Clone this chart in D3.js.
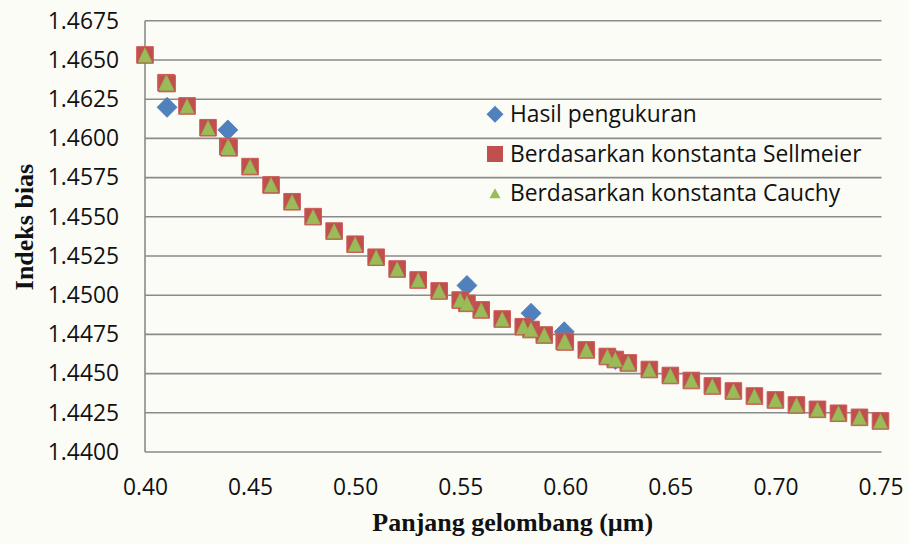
<!DOCTYPE html>
<html>
<head>
<meta charset="utf-8">
<script src="https://cdn.jsdelivr.net/npm/d3@7"></script>
<style>
  html, body { margin: 0; padding: 0; background: #fcfcf7; }
  svg { display: block; }
</style>
</head>
<body>
<svg id="chart" width="909" height="544"></svg>
<script>
// Measured refractive index (diamonds)
const measuredWavelength = [0.4105, 0.4394, 0.5532, 0.5837, 0.5995, 0.6238];
const measuredIndex      = [1.46198, 1.46054, 1.45062, 1.44885, 1.44767, 1.44590];

// Index computed from the Sellmeier constants (squares)
const sellmeierWavelength = [0.40, 0.41, 0.4105, 0.42, 0.43, 0.4394, 0.44, 0.45, 0.46, 0.47, 0.48, 0.49,
  0.50, 0.51, 0.52, 0.53, 0.54, 0.55, 0.5532, 0.56, 0.57, 0.58, 0.5837, 0.59, 0.5995, 0.60,
  0.61, 0.62, 0.6238, 0.63, 0.64, 0.65, 0.66, 0.67, 0.68, 0.69, 0.70, 0.71, 0.72, 0.73, 0.74, 0.75];
const sellmeierIndex = [1.46532, 1.46355, 1.46350, 1.46207, 1.46068, 1.45947, 1.45940, 1.45820, 1.45703, 1.45596, 1.45501, 1.45409,
  1.45325, 1.45242, 1.45167, 1.45097, 1.45027, 1.44969, 1.44948, 1.44906, 1.44848, 1.44799, 1.44781, 1.44746, 1.44705, 1.44702,
  1.44651, 1.44609, 1.44590, 1.44568, 1.44526, 1.44488, 1.44456, 1.44421, 1.44389, 1.44357, 1.44332, 1.44300, 1.44272, 1.44247, 1.44221, 1.44198];

// Index computed from the Cauchy constants (triangles)
const cauchyWavelength = [0.40, 0.41, 0.4105, 0.42, 0.43, 0.4394, 0.44, 0.45, 0.46, 0.47, 0.48, 0.49,
  0.50, 0.51, 0.52, 0.53, 0.54, 0.55, 0.5532, 0.56, 0.57, 0.58, 0.5837, 0.59, 0.5995, 0.60,
  0.61, 0.62, 0.6238, 0.63, 0.64, 0.65, 0.66, 0.67, 0.68, 0.69, 0.70, 0.71, 0.72, 0.73, 0.74, 0.75];
const cauchyIndex = [1.46532, 1.46356, 1.46351, 1.46207, 1.46068, 1.45946, 1.45940, 1.45820, 1.45704, 1.45596, 1.45501, 1.45409,
  1.45325, 1.45242, 1.45167, 1.45097, 1.45027, 1.44969, 1.44948, 1.44906, 1.44848, 1.44799, 1.44781, 1.44746, 1.44705, 1.44702,
  1.44651, 1.44609, 1.44590, 1.44568, 1.44526, 1.44488, 1.44456, 1.44421, 1.44389, 1.44357, 1.44332, 1.44300, 1.44272, 1.44247, 1.44221, 1.44198];

const xTicks = [0.40, 0.45, 0.50, 0.55, 0.60, 0.65, 0.70, 0.75];
const yTicks = [1.4400, 1.4425, 1.4450, 1.4475, 1.4500, 1.4525, 1.4550, 1.4575, 1.4600, 1.4625, 1.4650, 1.4675];
const seriesNames = ["Hasil pengukuran", "Berdasarkan konstanta Sellmeier", "Berdasarkan konstanta Cauchy"];
const xTitle = "Panjang gelombang (\u00b5m)";
const yTitle = "Indeks bias";

const colors = { measured: "#4f81bd", sellmeier: "#c0504d", cauchy: "#9bbb59" };
const tickFont = "'Open Sans', sans-serif";
const titleFont = "'Liberation Serif', 'Times New Roman', serif";

const svg = d3.select("#chart");
const plot = { left: 145, right: 880.5, top: 20.8, bottom: 452 };

const x = d3.scaleLinear().domain([0.40, 0.75]).range([plot.left, plot.right]);
const y = d3.scaleLinear().domain([1.4400, 1.4675]).range([plot.bottom, plot.top]);

// horizontal gridlines
svg.append("g")
  .selectAll("line")
  .data(yTicks)
  .join("line")
  .attr("x1", plot.left).attr("x2", plot.right + 1)
  .attr("y1", d => y(d)).attr("y2", d => y(d))
  .attr("stroke", "#8a8a8a").attr("stroke-width", 1.6);

// vertical axis line
svg.append("line")
  .attr("x1", plot.left).attr("x2", plot.left)
  .attr("y1", plot.top).attr("y2", plot.bottom)
  .attr("stroke", "#8a8a8a").attr("stroke-width", 1.6);

// y axis labels
const yAxis = svg.append("g")
  .attr("transform", `translate(${plot.left},0)`)
  .call(d3.axisLeft(y).tickValues(yTicks).tickFormat(d3.format(".4f")).tickSize(0).tickPadding(26));
yAxis.select(".domain").remove();
yAxis.selectAll("text")
  .attr("font-family", tickFont).attr("font-size", 22.8).attr("fill", "#111");

// x axis labels
const xAxis = svg.append("g")
  .attr("transform", `translate(0,${plot.bottom})`)
  .call(d3.axisBottom(x).tickValues(xTicks).tickFormat(d3.format(".2f")).tickSize(0).tickPadding(27));
xAxis.select(".domain").remove();
xAxis.selectAll("text")
  .attr("font-family", tickFont).attr("font-size", 22.8).attr("fill", "#111");

// axis titles
svg.append("text")
  .attr("x", (plot.left + plot.right) / 2).attr("y", 531)
  .attr("text-anchor", "middle")
  .attr("font-family", titleFont).attr("font-weight", "bold").attr("font-size", 26)
  .attr("fill", "#111")
  .text(xTitle);

svg.append("text")
  .attr("transform", "translate(33,227) rotate(-90)")
  .attr("text-anchor", "middle")
  .attr("font-family", titleFont).attr("font-weight", "bold").attr("font-size", 26)
  .attr("fill", "#111")
  .text(yTitle);

// marker shapes
const diamondPath = r => `M0,${-r}L${r},0L0,${r}L${-r},0Z`;
const squarePath = h => `M${-h},${-h}H${h}V${h}H${-h}Z`;
const trianglePath = (w, h) => `M0,${-h / 2}L${w / 2},${h / 2}L${-w / 2},${h / 2}Z`;

const measured = measuredWavelength.map((w, i) => ({ w, n: measuredIndex[i] }));
const sellmeier = sellmeierWavelength.map((w, i) => ({ w, n: sellmeierIndex[i] }));
const cauchy = cauchyWavelength.map((w, i) => ({ w, n: cauchyIndex[i] }));

svg.append("g").selectAll("path")
  .data(measured).join("path")
  .attr("transform", d => `translate(${x(d.w)},${y(d.n)})`)
  .attr("d", diamondPath(10))
  .attr("fill", colors.measured).attr("stroke", "#4a7ab3").attr("stroke-width", 0.8);

svg.append("g").selectAll("path")
  .data(sellmeier).join("path")
  .attr("transform", d => `translate(${x(d.w)},${y(d.n)})`)
  .attr("d", squarePath(8.3))
  .attr("fill", colors.sellmeier).attr("stroke", "#cd5a57").attr("stroke-width", 1);

svg.append("g").selectAll("path")
  .data(cauchy).join("path")
  .attr("transform", d => `translate(${x(d.w)},${y(d.n)})`)
  .attr("d", trianglePath(14, 14.5))
  .attr("fill", colors.cauchy).attr("stroke", "#94b453").attr("stroke-width", 0.6);

// legend
const legendX = 495, legendY = [114.3, 154, 193.3];
const legend = svg.append("g");
legend.append("path")
  .attr("transform", `translate(${legendX},${legendY[0]})`)
  .attr("d", diamondPath(8.5)).attr("fill", colors.measured);
legend.append("path")
  .attr("transform", `translate(${legendX},${legendY[1]})`)
  .attr("d", squarePath(8)).attr("fill", colors.sellmeier);
legend.append("path")
  .attr("transform", `translate(${legendX},${legendY[2]})`)
  .attr("d", trianglePath(11, 10)).attr("fill", colors.cauchy);
legend.selectAll("text")
  .data(seriesNames).join("text")
  .attr("x", legendX + 15).attr("y", (d, i) => legendY[i] + 8)
  .attr("font-family", tickFont).attr("font-size", 22.8).attr("fill", "#111")
  .text(d => d);
</script>
</body>
</html>
